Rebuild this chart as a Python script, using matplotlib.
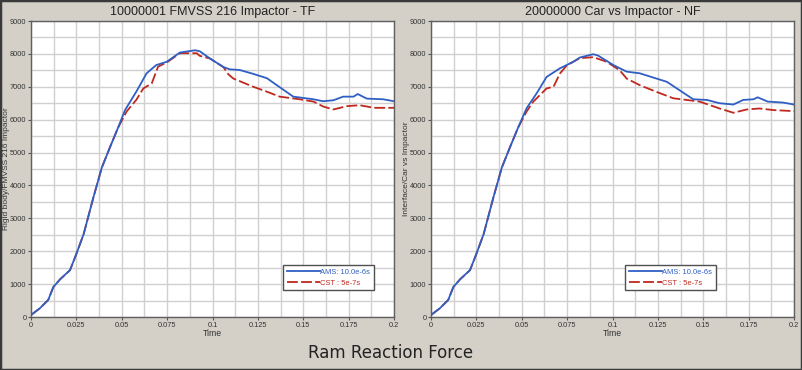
import numpy as np
import matplotlib
matplotlib.use("Agg")
import matplotlib.pyplot as plt
from matplotlib.patches import Rectangle

plt.rcParams["font.family"] = ["Liberation Sans", "DejaVu Sans"]

# Time axis ticks and labels
x_ticks = [0, 0.025, 0.05, 0.075, 0.1, 0.125, 0.15, 0.175, 0.2]
x_labels = ["0", "0.025", "0.05", "0.075", "0.1", "0.125", "0.15", "0.175", "0.2"]
y_ticks = [0, 1000, 2000, 3000, 4000, 5000, 6000, 7000, 8000, 9000]

# Rising part, shared by every run
t_rise = [0, 0.005, 0.0095, 0.0123, 0.016, 0.0215, 0.025, 0.029, 0.0343, 0.039, 0.0435, 0.048]
f_rise = [60, 270, 520, 910, 1145, 1425, 1920, 2520, 3620, 4540, 5160, 5760]

# 10000001 FMVSS 216 Impactor - TF
tf_ams_t = [0.0518, 0.058, 0.0637, 0.069, 0.0748, 0.082, 0.0904, 0.093, 0.0986, 0.106, 0.1096,
            0.115, 0.122, 0.13, 0.1354, 0.1445, 0.1556, 0.161, 0.1666, 0.172, 0.1777, 0.180,
            0.185, 0.194, 0.2]
tf_ams_f = [6290, 6850, 7410, 7660, 7760, 8040, 8110, 8080, 7860, 7600, 7530,
            7510, 7400, 7260, 7050, 6700, 6620, 6560, 6590, 6700, 6700, 6780,
            6640, 6620, 6560]
tf_cst_t = [0.0527, 0.058, 0.0619, 0.0665, 0.070, 0.0748, 0.082, 0.0913, 0.093, 0.0986, 0.106,
            0.1087, 0.1115, 0.1225, 0.13, 0.137, 0.148, 0.1556, 0.161, 0.1666, 0.174, 0.181,
            0.189, 0.2]
tf_cst_f = [6250, 6600, 6950, 7100, 7610, 7740, 8020, 8020, 7940, 7860, 7600,
            7380, 7250, 7000, 6850, 6700, 6620, 6550, 6400, 6310, 6410, 6440,
            6360, 6360]

# 20000000 Car vs Impactor - NF
nf_ams_t = [0.0527, 0.0582, 0.0637, 0.071, 0.0784, 0.082, 0.0894, 0.092, 0.1005, 0.1078, 0.115,
            0.13, 0.1409, 0.1445, 0.152, 0.159, 0.1666, 0.172, 0.1777, 0.180, 0.1855, 0.194, 0.2]
nf_ams_f = [6350, 6800, 7300, 7560, 7760, 7890, 7990, 7950, 7660, 7460, 7410,
            7150, 6750, 6620, 6600, 6500, 6460, 6600, 6620, 6680, 6550, 6520, 6460]
nf_cst_t = [0.0527, 0.0564, 0.0637, 0.0675, 0.071, 0.0748, 0.082, 0.0894, 0.0968, 0.104, 0.1078,
            0.115, 0.124, 0.1335, 0.148, 0.159, 0.1666, 0.174, 0.181, 0.189, 0.2]
nf_cst_f = [6250, 6550, 6950, 7000, 7400, 7650, 7870, 7900, 7760, 7500, 7250,
            7050, 6850, 6650, 6550, 6340, 6210, 6310, 6340, 6290, 6260]

panels = [
    ("10000001 FMVSS 216 Impactor - TF", "Rigid body/FMVSS 216 Impactor",
     tf_ams_t, tf_ams_f, tf_cst_t, tf_cst_f, 0.694),
    ("20000000 Car vs Impactor - NF", "Interface/Car vs Impactor",
     nf_ams_t, nf_ams_f, nf_cst_t, nf_cst_f, 0.534),
]

bg = "#d4d0c8"
blue = "#2f5fc4"
red = "#c0281e"

fig = plt.figure(figsize=(8.02, 3.70), dpi=100, facecolor=bg)
lefts = [31 / 802, 431 / 802]

for left, (title, ylab, at, af, ct, cf, leg_x) in zip(lefts, panels):
    ax = fig.add_axes([left, 53 / 370, 363 / 802, 296 / 370])
    ax.set_facecolor("white")
    ax.plot(t_rise + at, f_rise + af, color=blue, lw=1.3, label="AMS: 10.0e-6s", zorder=3)
    ax.plot(t_rise + ct, f_rise + cf, color=red, lw=1.3, dashes=(6, 1.8),
            label="CST : 5e-7s", zorder=2)
    ax.set_xlim(0, 0.2)
    ax.set_ylim(0, 9000)
    ax.set_xticks(x_ticks)
    ax.set_xticklabels(x_labels)
    ax.set_yticks(y_ticks)
    ax.set_xticks(np.arange(0, 0.2, 0.0125), minor=True)
    ax.set_yticks(np.arange(0, 9000, 500), minor=True)
    ax.grid(which="both", color="#d0d0d0", lw=1.0)
    ax.tick_params(which="minor", length=0)
    ax.tick_params(which="major", length=2.5, width=0.8, color="#555555",
                   labelsize=5.3, labelcolor="#333333", pad=0.8)
    for s in ax.spines.values():
        s.set_color("#606060")
        s.set_linewidth(1.0)
    ax.set_title(title, fontsize=9, color="#222222", pad=4)
    ax.set_xlabel("Time", fontsize=6.3, color="#333333", labelpad=0)
    ax.set_ylabel(ylab, fontsize=6, color="#333333")
    ax.yaxis.set_label_coords(-0.058, 0.5)
    leg = ax.legend(loc="lower left", bbox_to_anchor=(leg_x, 0.09), fontsize=5.4,
                    handlelength=4.4, handletextpad=0.1, borderpad=0.5, labelspacing=0.5,
                    borderaxespad=0, fancybox=False, framealpha=1, edgecolor="#505050")
    leg.get_frame().set_linewidth(1.0)
    for txt, c in zip(leg.get_texts(), [blue, red]):
        txt.set_color(c)

fig.text(0.487, 0.045, "Ram Reaction Force", fontsize=12, color="#222222",
         family="DejaVu Sans", ha="center", va="center")
fig.patches.append(Rectangle((0, 0), 1, 1, transform=fig.transFigure, fill=False,
                             edgecolor="#3a3a3a", lw=2.5))

fig.savefig("out.png", dpi=100, facecolor=bg)
